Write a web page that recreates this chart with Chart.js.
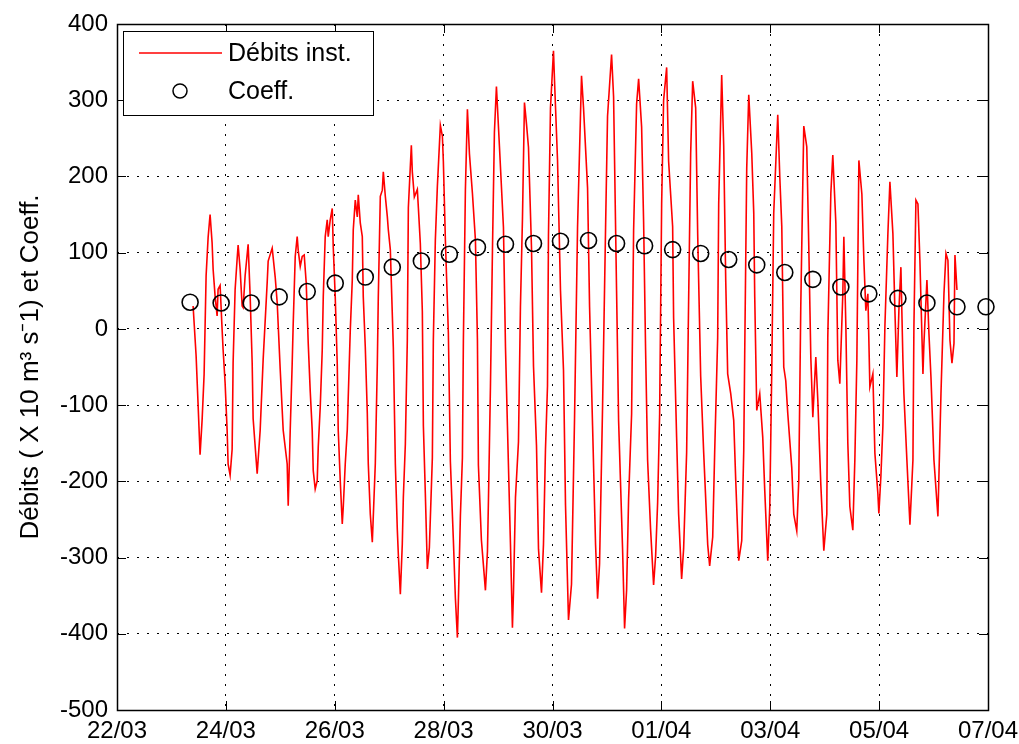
<!DOCTYPE html>
<html>
<head>
<meta charset="utf-8">
<script src="https://cdn.jsdelivr.net/npm/chart.js@4.4.1/dist/chart.umd.min.js"></script>
<style>
  body { margin: 0; background: #fff; }
  canvas { display: block; }
</style>
</head>
<body>
<canvas id="debits" width="1019" height="744"></canvas>
<script>
// x values are days counted from 22/03 00:00
const dateLabels = ['22/03', '24/03', '26/03', '28/03', '30/03', '01/04', '03/04', '05/04', '07/04'];

// instantaneous discharge (X 10 m3/s), read tide by tide from the plot
const flowDays = [
  1.398, 1.453, 1.490, 1.526, 1.563, 1.600, 1.637, 1.674, 1.710, 1.747, 1.766, 1.802, 1.839, 1.857, 1.894, 1.931,
  1.949, 1.986, 2.023, 2.041, 2.078, 2.115, 2.133, 2.170, 2.207, 2.225, 2.262, 2.299, 2.317, 2.354, 2.409, 2.446,
  2.483, 2.501, 2.575, 2.630, 2.685, 2.759, 2.777, 2.851, 2.906, 2.943, 2.998, 3.053, 3.126, 3.145,
  3.182, 3.218, 3.237, 3.274, 3.310, 3.329, 3.366, 3.402, 3.439, 3.476, 3.513, 3.549, 3.586, 3.605, 3.641,
  3.678, 3.697, 3.733, 3.770, 3.789, 3.825, 3.862, 3.880, 3.917, 3.954, 3.972, 4.009, 4.046, 4.064, 4.101,
  4.138, 4.156, 4.193, 4.230, 4.248, 4.285, 4.322, 4.340, 4.377, 4.414, 4.432, 4.469, 4.506, 4.524, 4.561,
  4.598, 4.616, 4.653, 4.690, 4.745, 4.782, 4.800, 4.837, 4.874, 4.892, 4.929, 4.966, 4.984, 5.021, 5.076,
  5.113, 5.149, 5.168,
  5.205, 5.241, 5.260, 5.297, 5.333, 5.352, 5.407, 5.425, 5.462, 5.517, 5.536, 5.572, 5.609, 5.628, 5.664,
  5.701, 5.738, 5.793, 5.811, 5.848, 5.885, 5.940, 5.977, 5.995, 6.032, 6.087, 6.124, 6.179, 6.216, 6.253,
  6.271, 6.308, 6.345, 6.363, 6.400, 6.437, 6.474, 6.529, 6.584, 6.621, 6.639, 6.694, 6.731, 6.768, 6.805,
  6.823, 6.860, 6.897, 6.933, 6.970, 6.989, 7.025, 7.099, 7.136, 7.172, 7.228,
  7.264, 7.283, 7.320, 7.375, 7.411, 7.448, 7.485, 7.522, 7.559, 7.614, 7.651, 7.706, 7.743, 7.798, 7.834,
  7.871, 7.908, 7.926, 7.963, 8.018, 8.037, 8.092, 8.147, 8.202, 8.239, 8.294, 8.349, 8.405, 8.460, 8.533,
  8.570, 8.644, 8.681, 8.736, 8.791, 8.828, 8.864, 8.920, 8.975, 9.011, 9.085, 9.122, 9.177, 9.214,
  9.287, 9.324, 9.361, 9.398, 9.453, 9.490, 9.545, 9.582, 9.637, 9.674, 9.710, 9.747, 9.802, 9.857, 9.894,
  9.931, 9.968, 10.005, 10.041, 10.097, 10.133, 10.207, 10.225, 10.280, 10.317, 10.372, 10.409, 10.464, 10.501, 10.538,
  10.575, 10.630, 10.667, 10.722, 10.777, 10.851, 10.887, 10.943, 10.979, 11.034, 11.053, 11.108, 11.145, 11.182,
  11.218, 11.274, 11.329, 11.366, 11.421, 11.476, 11.513, 11.531, 11.568, 11.605, 11.660, 11.697, 11.715, 11.752, 11.807,
  11.862, 11.899, 11.954, 11.991, 12.028, 12.064, 12.138, 12.175, 12.212, 12.248, 12.285, 12.322, 12.395, 12.432, 12.487,
  12.524, 12.561, 12.598, 12.616, 12.671, 12.708, 12.745, 12.782, 12.837, 12.874, 12.929, 12.984, 13.039, 13.057, 13.113,
  13.149, 13.205, 13.241,
  13.278, 13.333, 13.352, 13.389, 13.425, 13.462, 13.517, 13.554, 13.591, 13.628, 13.683, 13.720, 13.756, 13.793, 13.830,
  13.885, 13.922, 13.977, 13.995, 14.032, 14.069, 14.106, 14.161, 14.198, 14.253, 14.290, 14.326, 14.363, 14.400, 14.437,
  14.455, 14.510, 14.566, 14.621, 14.639, 14.676, 14.713, 14.749, 14.805, 14.823, 14.878, 14.915, 14.952, 15.007, 15.080,
  15.136, 15.191, 15.228, 15.264, 15.301, 15.338, 15.375, 15.393, 15.430
];
const flowValues = [
  30, -35, -100, -165, -120, -60, 70, 120, 150, 113, 78, 43, 17, 52, 57, -1,
  -27, -71, -133, -177, -192, -158, -44, 52, 92, 110, 78, 30, 28, 70, 111, 43,
  -44, -118, -190, -133, -40, 61, 89, 106, 68, 34, -53, -133, -177, -232,
  -133, -46, 7, 95, 121, 103, 82, 95, 97, 60, -19, -81, -133, -186, -210,
  -199, -155, -103, -28, 42, 121, 143, 121, 143, 158, 108, 42, -46, -133, -199,
  -256, -234, -177, -133, -89, -2, 64, 130, 169, 147, 176, 139, 121, 42, -24,
  -111, -177, -243, -280, -177, -46, 42, 174, 182, 206, 174, 147, 130, 104, -24,
  -177, -263, -296,
  -348, -282, -221, -151, -15, 159, 241, 206, 173, 183, 159, 112, 23, -127, -216,
  -315, -287, -169, -15, 117, 187, 267, 253, 220, 117, -5, -174, -277, -353, -405,
  -357, -245, -169, -15, 183, 288, 230, 178, 117, -15, -179, -277, -310, -343, -292,
  -226, -76, 103, 258, 318, 291, 240, 133, -23, -127, -283,
  -392, -346, -221, -148, 29, 144, 297, 269, 238, 107, -49, -153, -289, -346, -283,
  -158, -75, 123, 290, 365, 326, 222, 50, -54, -231, -382, -335, -117, 133, 332,
  290, 185, 29, -127, -283, -354, -309, -101, 133, 279, 360, 305, 50, -120,
  -288, -393, -343, -223, -112, 129, 295, 328, 265, 139, -27, -172, -263, -336, -298,
  -228, -112, 164, 300, 343, 220, 134, 14, -142, -243, -328, -288, -162, 39, 230,
  325, 290, 124, -62, -162, -283, -311, -273, -162, -12, 164, 333, 240, 64,
  -59, -85, -120, -199, -304, -278, -160, -32, 211, 307, 231, 152, 42, -107, -85,
  -142, -212, -304, -234, -54, 152, 281, 200, 134, -50, -68, -111, -182, -243, -265,
  -199, 31, 191, 266, 239, 108, -37, -116, -37, -94, -204, -291, -243, -11, 178,
  228, 139, -41,
  -72, 46, 121, 3, -150, -233, -264, -172, -41, 221, 177, 90, 24, 46, -76,
  -59, -163, -216, -242, -194, -128, 3, 125, 193, 125, 24, -63, 24, 81, -41,
  -85, -172, -257, -172, 3, 169, 164, 90, -59, -19, 64, -6, -63, -172, -246,
  -85, 46, 99, 90, -15, -45, -19, 97, 51
];

// tidal coefficient, one per tide
const coeffDays = [1.343, 1.913, 2.464, 2.979, 3.494, 4.009, 4.561, 5.057, 5.591, 6.106, 6.621, 7.136, 7.651, 8.147, 8.662,
  9.177, 9.692, 10.207, 10.722, 11.237, 11.752, 12.267, 12.782, 13.297, 13.811, 14.345, 14.878, 15.430, 15.963];
const coeffValues = [35, 34, 34, 42, 49, 60, 68, 81, 89, 98, 107, 111, 112, 115, 116,
  112, 109, 104, 99, 91, 84, 74, 65, 55, 46, 40, 34, 29, 29];

const yTitle = 'Débits ( X 10 m³ s⁻1) et Coeff.';
const FONT = '"Liberation Sans", Arial, Helvetica, sans-serif';

const n = Math.min(flowDays.length, flowValues.length);
const flowPoints = [];
for (let i = 0; i < n; i++) flowPoints.push({ x: flowDays[i], y: flowValues[i] });
const coeffPoints = coeffDays.map((d, i) => ({ x: d, y: coeffValues[i] }));

// matlab style box: solid frame with ticks pointing inwards on all 4 sides
const frameBox = {
  id: 'frameBox',
  afterDatasetsDraw(chart) {
    const { ctx, chartArea: a, scales } = chart;
    const len = 9;
    ctx.save();
    ctx.strokeStyle = '#000';
    ctx.lineWidth = 1;
    ctx.beginPath();
    scales.x.ticks.forEach(t => {
      const px = Math.round(scales.x.getPixelForValue(t.value)) + 0.5;
      ctx.moveTo(px, a.bottom); ctx.lineTo(px, a.bottom - len);
      ctx.moveTo(px, a.top); ctx.lineTo(px, a.top + len);
    });
    scales.y.ticks.forEach(t => {
      const py = Math.round(scales.y.getPixelForValue(t.value)) + 0.5;
      ctx.moveTo(a.left, py); ctx.lineTo(a.left + len, py);
      ctx.moveTo(a.right, py); ctx.lineTo(a.right - len, py);
    });
    ctx.stroke();
    ctx.lineWidth = 1.5;
    ctx.strokeRect(Math.round(a.left) + 0.5, Math.round(a.top) + 0.5,
      Math.round(a.right - a.left), Math.round(a.bottom - a.top));
    ctx.restore();
  }
};

// legend box in the upper left corner of the axes
const boxLegend = {
  id: 'boxLegend',
  afterDraw(chart) {
    const { ctx, chartArea: a } = chart;
    const ds = chart.data.datasets;
    const x0 = a.left + 6, y0 = a.top + 7, w = 250, h = 84;
    ctx.save();
    ctx.fillStyle = '#fff';
    ctx.fillRect(x0, y0, w, h);
    ctx.strokeStyle = '#000';
    ctx.lineWidth = 1;
    ctx.strokeRect(x0 + 0.5, y0 + 0.5, w, h);
    ctx.font = '25px ' + FONT;
    ctx.textBaseline = 'middle';
    ctx.fillStyle = '#000';
    // line sample
    ctx.strokeStyle = ds[0].borderColor;
    ctx.lineWidth = 1.5;
    ctx.beginPath();
    ctx.moveTo(x0 + 16, y0 + 22);
    ctx.lineTo(x0 + 99, y0 + 22);
    ctx.stroke();
    ctx.fillText(ds[0].label, x0 + 105, y0 + 23);
    // marker sample
    ctx.strokeStyle = '#000';
    ctx.beginPath();
    ctx.arc(x0 + 57, y0 + 60, 7, 0, Math.PI * 2);
    ctx.stroke();
    ctx.fillText(ds[1].label, x0 + 105, y0 + 61);
    ctx.restore();
  }
};

const gridStyle = { color: '#000', lineWidth: 1, drawTicks: false };
const borderStyle = { display: false, dash: [2, 8] };

new Chart(document.getElementById('debits'), {
  type: 'line',
  data: {
    datasets: [
      {
        label: 'Débits inst.',
        data: flowPoints,
        borderColor: '#ff0000',
        borderWidth: 1.6,
        pointRadius: 0,
        tension: 0,
        fill: false,
        order: 2
      },
      {
        label: 'Coeff.',
        data: coeffPoints,
        showLine: false,
        pointStyle: 'circle',
        pointRadius: 8,
        borderColor: '#000',
        backgroundColor: 'rgba(0,0,0,0)',
        pointBorderWidth: 1.6,
        clip: false,
        order: 1
      }
    ]
  },
  options: {
    responsive: false,
    animation: false,
    devicePixelRatio: 1,
    layout: { padding: { top: 24, right: 31, left: 0, bottom: 0 } },
    plugins: { legend: { display: false }, tooltip: { enabled: false } },
    scales: {
      x: {
        type: 'linear',
        min: 0,
        max: 16,
        grid: gridStyle,
        border: borderStyle,
        ticks: {
          stepSize: 2,
          autoSkip: false,
          maxRotation: 0,
          padding: 7,
          color: '#000',
          font: { family: FONT, size: 24 },
          callback: v => dateLabels[Math.round(v / 2)]
        },
        afterFit: s => {
          s.height = 34;
          s.paddingLeft = 0;
          s.paddingRight = 0;
        }
      },
      y: {
        min: -500,
        max: 400,
        grid: gridStyle,
        border: borderStyle,
        ticks: {
          stepSize: 100,
          padding: 9,
          color: '#000',
          font: { family: FONT, size: 24 }
        },
        title: {
          display: true,
          text: yTitle,
          color: '#000',
          font: { family: FONT, size: 26 },
          padding: { top: 15, bottom: 0 }
        },
        afterFit: s => {
          s.width = 117;
          s.paddingTop = 0;
          s.paddingBottom = 0;
        }
      }
    }
  },
  plugins: [frameBox, boxLegend]
});
</script>
</body>
</html>
